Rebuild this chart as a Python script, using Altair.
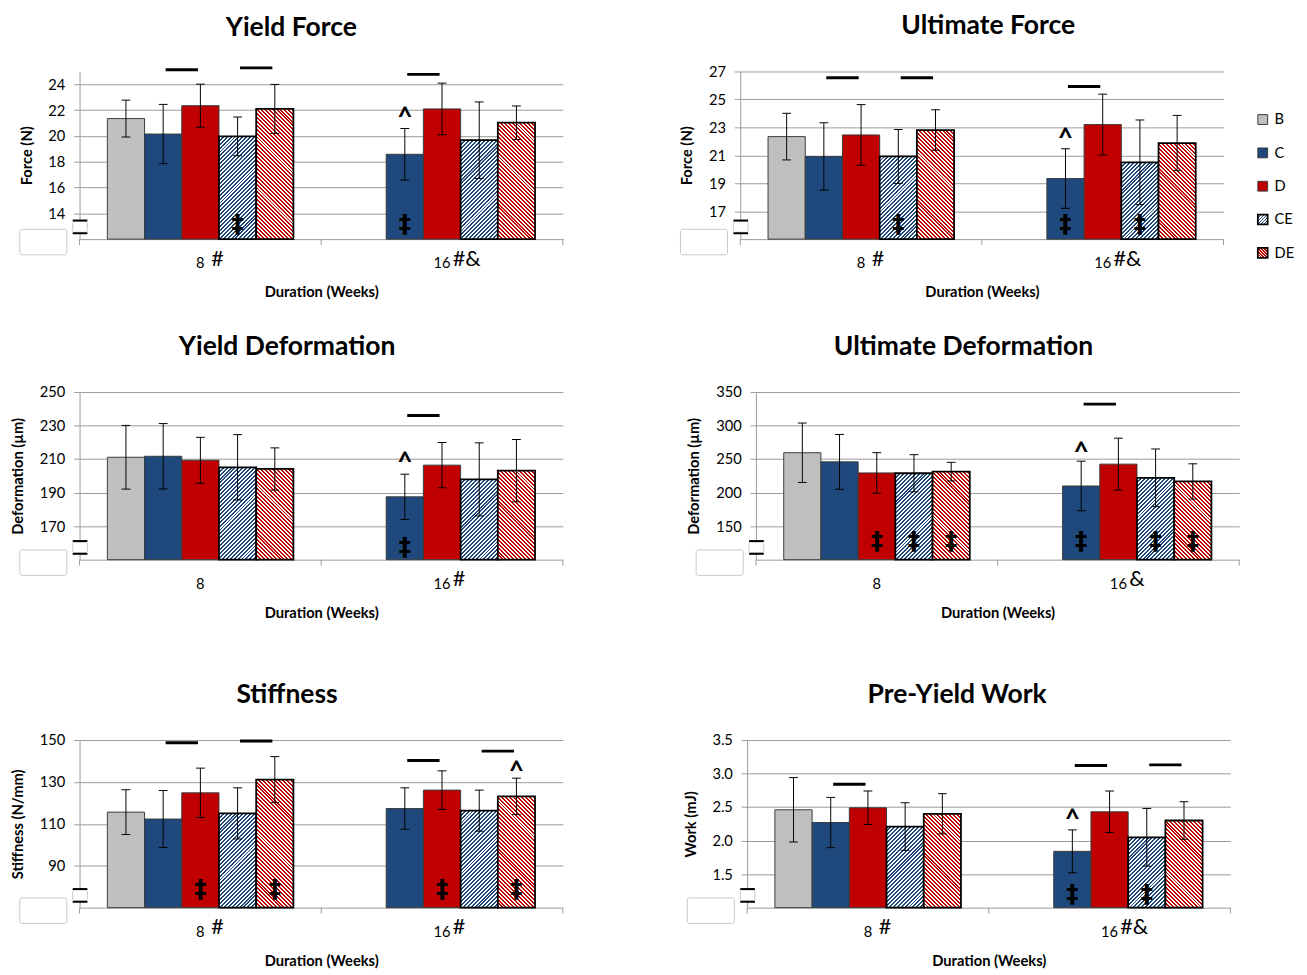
import math
import altair as alt
import pandas as pd

SERIES = ["B", "C", "D", "CE", "DE"]
WEEKS = ["8", "16"]
SOLID_SERIES = ["B", "C", "D"]
SOLID_COLORS = ["#BFBFBF", "#1F497D", "#C00000"]
HATCH_SERIES = ["CE", "DE"]
HATCH_COLORS = ["#1F497D", "#C00000"]
GRID = "#9a9a9a"

# ---- Yield Force (N)
YF_8 = [21.35, 20.15, 22.35, 19.97, 22.10]
YF_8_SD = [1.43, 2.30, 1.67, 1.50, 1.90]
YF_16 = [None, 18.58, 22.10, 19.67, 21.03]
YF_16_SD = [None, 2.00, 2.00, 2.97, 1.30]
YF_DOMAIN = [12, 25]
YF_TICKS = [14, 16, 18, 20, 22, 24]
YF_LINES = [("8", "C", 25.13), ("8", "CE", 25.28), ("16", "C", 24.78)]
YF_CARETS = [("16", "C", 21.6)]
YF_DAGGERS = [("8", "CE", 13.2), ("16", "C", 13.2)]
YF_MARKS = ["#", "#&"]

# ---- Ultimate Force (N)
UF_8 = [22.34, 20.92, 22.46, 20.92, 22.81]
UF_8_SD = [1.67, 2.41, 2.17, 1.93, 1.45]
UF_16 = [None, 19.34, 23.20, 20.50, 21.88]
UF_16_SD = [None, 2.13, 2.18, 3.03, 1.98]
UF_DOMAIN = [15, 27]
UF_TICKS = [17, 19, 21, 23, 25, 27]
UF_LINES = [("8", "C", 26.56), ("8", "CE", 26.56), ("16", "C", 25.93)]
UF_CARETS = [("16", "C", 22.4)]
UF_DAGGERS = [("8", "CE", 16.05), ("16", "C", 16.05), ("16", "CE", 16.05)]
UF_MARKS = ["#", "#&"]

# ---- Yield Deformation (um)
YD_8 = [211.1, 211.7, 209.3, 205.1, 204.1]
YD_8_SD = [19.0, 19.5, 13.7, 19.5, 12.6]
YD_16 = [None, 187.5, 206.4, 197.9, 203.1]
YD_16_SD = [None, 13.5, 13.5, 21.8, 18.6]
YD_DOMAIN = [150, 250]
YD_TICKS = [170, 190, 210, 230, 250]
YD_LINES = [("16", "C", 236.0)]
YD_CARETS = [("16", "C", 209.6)]
YD_DAGGERS = [("16", "C", 157.5)]
YD_MARKS = ["", "#"]

# ---- Ultimate Deformation (um)
UD_8 = [259.5, 245.9, 229.4, 228.9, 231.3]
UD_8_SD = [44.3, 40.9, 30.2, 27.7, 13.9]
UD_16 = [None, 209.9, 242.5, 222.1, 216.7]
UD_16_SD = [None, 37.0, 38.7, 43.0, 26.3]
UD_DOMAIN = [100, 350]
UD_TICKS = [150, 200, 250, 300, 350]
UD_LINES = [("16", "C", 332.0)]
UD_CARETS = [("16", "C", 263.7)]
UD_DAGGERS = [("8", "D", 127.8), ("8", "CE", 127.8), ("8", "DE", 127.8),
              ("16", "C", 127.8), ("16", "CE", 127.8), ("16", "DE", 127.8)]
UD_MARKS = ["", "&"]

# ---- Stiffness (N/mm)
ST_8 = [115.6, 112.3, 124.8, 115.0, 131.1]
ST_8_SD = [10.7, 13.6, 11.8, 12.2, 11.0]
ST_16 = [None, 117.3, 126.1, 116.3, 123.1]
ST_16_SD = [None, 9.9, 9.2, 9.8, 8.7]
ST_DOMAIN = [70, 150]
ST_TICKS = [90, 110, 130, 150]
ST_LINES = [("8", "C", 148.7), ("8", "CE", 149.5), ("16", "C", 140.2), ("16", "CE", 144.7)]
ST_CARETS = [("16", "DE", 136.0)]
ST_DAGGERS = [("8", "D", 78.9), ("8", "DE", 78.9), ("16", "D", 78.9), ("16", "DE", 78.9)]
ST_MARKS = ["#", "#"]

# ---- Pre-Yield Work (mJ)
PW_8 = [2.46, 2.27, 2.49, 2.21, 2.40]
PW_8_SD = [0.48, 0.375, 0.25, 0.355, 0.30]
PW_16 = [None, 1.84, 2.43, 2.05, 2.30]
PW_16_SD = [None, 0.32, 0.31, 0.43, 0.28]
PW_DOMAIN = [1.0, 3.5]
PW_TICKS = [1.5, 2.0, 2.5, 3.0, 3.5]
PW_LINES = [("8", "C", 2.84), ("16", "C", 3.12), ("16", "CE", 3.13)]
PW_CARETS = [("16", "C", 2.345)]
PW_DAGGERS = [("16", "C", 1.2), ("16", "CE", 1.2)]
PW_MARKS = ["#", "#&"]

W = 493
H = 171
PAD_IN = 0.23
PAD_OUT = 0.115
BAR_W = (W / 2) * (1 - PAD_IN) / 5
SLOTS = [str(i) for i in range(11)]  # bar edges/centres in half-bar steps
ONE = pd.DataFrame({"k": [0]})


def stripes(w, h, color, down, period=4, frac=0.5):
    """45-degree stripes with an exact horizontal period (in px) as a linear gradient."""
    h = max(h, 1.0)
    n = max(2, int(math.ceil((w + h) / period)))
    span = n * period
    k = span / (w * w + h * h)
    a, b = k * w, k * h
    if down:
        x1, y1, x2, y2 = 0, 1, a, 1 - b
    else:
        x1, y1, x2, y2 = 0, 0, a, b
    stops = []
    for i in range(n):
        o0, o1, o2 = i / n, (i + frac) / n, (i + 1) / n
        stops += [{"offset": o0, "color": color}, {"offset": o1, "color": color},
                  {"offset": o1, "color": "#ffffff"}, {"offset": o2, "color": "#ffffff"}]
    return {"gradient": "linear", "x1": x1, "y1": y1, "x2": x2, "y2": y2, "stops": stops}


def panel(title, ytitle, v8, s8, v16, s16, dom, ticks, fmt, lines, carets, daggers, marks, title_dx=0):
    base, top = dom
    rows = []
    for wk, vals, sds in (("8", v8, s8), ("16", v16, s16)):
        for s, v, e in zip(SERIES, vals, sds):
            if v is None:
                continue
            rows.append({"week": wk, "series": s, "mean": v, "lo": v - e, "hi": v + e})
    df = pd.DataFrame(rows)

    xs = alt.Scale(domain=WEEKS, paddingInner=PAD_IN, paddingOuter=PAD_OUT)
    x_axis = alt.Axis(title="Duration (Weeks)", labelAngle=0, ticks=False, domainColor=GRID,
                      labelFont="Lato", labelFontSize=15, labelColor="black", labelPadding=17,
                      titleFont="Lato", titleFontSize=15, titleFontWeight="bold", titleColor="black",
                      titlePadding=15)
    X = alt.X("week:N", scale=xs, axis=x_axis)
    xo_scale = alt.Scale(type="band", domain=SERIES, paddingInner=0, paddingOuter=0)
    XO = alt.XOffset("series:N", scale=xo_scale)
    ys = alt.Scale(domain=[base, top], nice=False, zero=False)
    y_axis = alt.Axis(values=ticks, format=fmt, title=ytitle, grid=True, gridColor=GRID,
                      domainColor=GRID, tickColor=GRID, tickSize=6, labelPadding=9,
                      labelFont="Lato", labelFontSize=15, labelColor="black",
                      titleFont="Lato", titleFontSize=15, titleFontWeight="bold", titleColor="black",
                      titlePadding=14)

    def Y(field):
        return alt.Y(field, type="quantitative", scale=ys, axis=y_axis)

    layers = []
    layers.append(
        alt.Chart(df).transform_filter(alt.FieldOneOfPredicate(field="series", oneOf=SOLID_SERIES))
        .mark_bar(stroke="#3a3a3a", strokeWidth=1)
        .encode(x=X, xOffset=XO, y=Y("mean"), y2=alt.Y2Datum(base),
                fill=alt.Fill("series:N", scale=alt.Scale(domain=SOLID_SERIES, range=SOLID_COLORS), legend=None))
    )
    for wk, vals in (("8", v8), ("16", v16)):
        for s, col in zip(HATCH_SERIES, HATCH_COLORS):
            v = vals[SERIES.index(s)]
            hpx = (v - base) / (top - base) * H
            grad = stripes(BAR_W, hpx, col, s == "DE")
            layers.append(
                alt.Chart(df).transform_filter((alt.datum.series == s) & (alt.datum.week == wk))
                .mark_bar(fill=grad, stroke="black", strokeWidth=1.8)
                .encode(x=X, xOffset=XO, y=Y("mean"), y2=alt.Y2Datum(base))
            )
    # error bars
    layers.append(alt.Chart(df).mark_rule(color="black", strokeWidth=1)
                  .encode(x=X, xOffset=XO, y=Y("lo"), y2="hi"))
    layers.append(alt.Chart(df).mark_tick(color="black", thickness=1, size=9, opacity=1)
                  .encode(x=X, xOffset=XO, y=Y("hi")))
    layers.append(alt.Chart(df).mark_tick(color="black", thickness=1, size=9, opacity=1)
                  .encode(x=X, xOffset=XO, y=Y("lo")))
    # significance bars, centred on the edge between two bars
    ldf = pd.DataFrame(lines, columns=["week", "series", "v"])
    ldf["slot"] = [str(2 * (SERIES.index(s) + 1)) for s in ldf["series"]]
    layers.append(alt.Chart(ldf).mark_tick(color="black", thickness=3, size=33, opacity=1)
                  .encode(x=X, xOffset=alt.XOffset("slot:N", scale=alt.Scale(type="point", domain=SLOTS, padding=0)),
                          y=Y("v")))
    cdf = pd.DataFrame(carets, columns=["week", "series", "v"])
    layers.append(alt.Chart(cdf).mark_text(text="^", font="Lato", fontSize=27, fontWeight="bold",
                                           baseline="middle", dy=3, color="black")
                  .encode(x=X, xOffset=XO, y=Y("v")))
    ddf = pd.DataFrame(daggers, columns=["week", "series", "v"])
    layers.append(alt.Chart(ddf).mark_text(text="\u2021", font="DejaVu Sans", fontSize=25, fontWeight="bold",
                                           baseline="middle", color="black")
                  .encode(x=X, xOffset=XO, y=Y("v")))
    # suffix symbols next to week labels
    sdf = pd.DataFrame({"week": WEEKS, "mark": marks})
    layers.append(alt.Chart(sdf).mark_text(align="left", baseline="alphabetic", dx=11, font="Lato",
                                           fontSize=22, color="black")
                  .encode(x=X, y=alt.value(H + 27), text="mark:N"))
    # category boundary ticks
    for xv in (0, W / 2, W):
        layers.append(alt.Chart(ONE).mark_rule(color=GRID, strokeWidth=1)
                      .encode(x=alt.value(xv), y=alt.value(H), y2=alt.value(H + 6)))
    # axis break symbol and empty box
    layers.append(alt.Chart(ONE).mark_rect(fill="white", stroke="#c8c8c8", strokeWidth=1, cornerRadius=2)
                  .encode(x=alt.value(-61), x2=alt.value(-13), y=alt.value(H - 10), y2=alt.value(H + 16)))
    layers.append(alt.Chart(ONE).mark_rect(fill="white", stroke="#c8c8c8", strokeWidth=1, cornerRadius=2)
                  .encode(x=alt.value(-7), x2=alt.value(8), y=alt.value(H - 18), y2=alt.value(H - 7)))
    for yv in (H - 19, H - 6):
        layers.append(alt.Chart(ONE).mark_rule(color="black", strokeWidth=2)
                      .encode(x=alt.value(-7), x2=alt.value(8), y=alt.value(yv)))

    return alt.layer(*layers).resolve_scale(xOffset="independent").properties(
        width=W, height=H,
        title=alt.TitleParams(text=title, font="Lato", fontSize=27, fontWeight="bold", color="black",
                              anchor="middle", frame="bounds", baseline="alphabetic", offset=4, dx=title_dx),
    )


def legend():
    df = pd.DataFrame({"series": SERIES})
    Yl = alt.Y("series:N", scale=alt.Scale(type="point", domain=SERIES, range=[49, 185], padding=0), axis=None)
    layers = [
        alt.Chart(df).transform_filter(alt.FieldOneOfPredicate(field="series", oneOf=SOLID_SERIES))
        .mark_square(size=100, opacity=1, stroke="#3a3a3a", strokeWidth=1)
        .encode(x=alt.value(5), y=Yl,
                fill=alt.Fill("series:N", scale=alt.Scale(domain=SOLID_SERIES, range=SOLID_COLORS), legend=None))
    ]
    for s, col in zip(HATCH_SERIES, HATCH_COLORS):
        layers.append(alt.Chart(df).transform_filter(alt.datum.series == s)
                      .mark_square(size=100, opacity=1, fill=stripes(10, 10, col, s == "DE", period=3),
                                   stroke="black", strokeWidth=1.8)
                      .encode(x=alt.value(5), y=Yl))
    layers.append(alt.Chart(df).mark_text(align="left", baseline="middle", dx=12, font="Lato",
                                          fontSize=15, color="black")
                  .encode(x=alt.value(5), y=Yl, text="series:N"))
    return alt.layer(*layers).properties(width=40, height=H)


yf = panel("Yield Force", "Force (N)", YF_8, YF_8_SD, YF_16, YF_16_SD, YF_DOMAIN, YF_TICKS, "d",
           YF_LINES, YF_CARETS, YF_DAGGERS, YF_MARKS)
uf = panel("Ultimate Force", "Force (N)", UF_8, UF_8_SD, UF_16, UF_16_SD, UF_DOMAIN, UF_TICKS, "d",
           UF_LINES, UF_CARETS, UF_DAGGERS, UF_MARKS, title_dx=37)
yd = panel("Yield Deformation", "Deformation (\u00b5m)", YD_8, YD_8_SD, YD_16, YD_16_SD, YD_DOMAIN, YD_TICKS, "d",
           YD_LINES, YD_CARETS, YD_DAGGERS, YD_MARKS)
ud = panel("Ultimate Deformation", "Deformation (\u00b5m)", UD_8, UD_8_SD, UD_16, UD_16_SD, UD_DOMAIN, UD_TICKS, "d",
           UD_LINES, UD_CARETS, UD_DAGGERS, UD_MARKS)
st = panel("Stiffness", "Stiffness (N/mm)", ST_8, ST_8_SD, ST_16, ST_16_SD, ST_DOMAIN, ST_TICKS, "d",
           ST_LINES, ST_CARETS, ST_DAGGERS, ST_MARKS)
pw = panel("Pre-Yield Work", "Work (mJ)", PW_8, PW_8_SD, PW_16, PW_16_SD, PW_DOMAIN, PW_TICKS, ".1f",
           PW_LINES, PW_CARETS, PW_DAGGERS, PW_MARKS)

row1 = alt.hconcat(yf, alt.hconcat(uf, legend(), spacing=30), spacing=118)
row2 = alt.hconcat(yd, ud, spacing=125)
row3 = alt.hconcat(st, pw, spacing=122)

chart = alt.vconcat(alt.vconcat(row1, row2, spacing=34), row3, spacing=62).properties(
    padding={"left": 2, "top": -5, "right": 2, "bottom": 2}
).configure_view(stroke=None)

chart.save("out.html", embed_options={"renderer": "svg", "actions": False})
